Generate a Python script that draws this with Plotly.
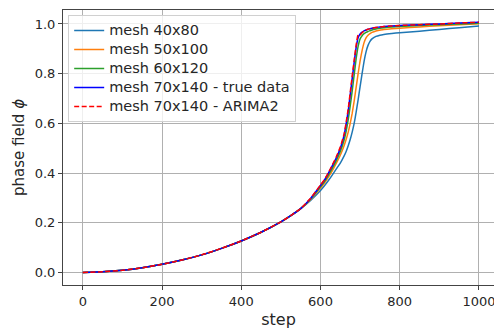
import plotly.graph_objects as go

steps = [0, 50, 100, 150, 200, 250, 300, 350, 400, 450, 500, 525, 550, 575, 600, 610, 620,
         630, 640, 650, 660, 665, 670, 675, 680, 685, 690, 695, 700, 705, 710, 715, 720,
         725, 730, 740, 750, 760, 780, 800, 850, 900, 950, 1000]

early = [0.0, 0.003, 0.009, 0.019, 0.033, 0.050, 0.071, 0.097, 0.127, 0.162, 0.204, 0.229, 0.257]

mesh_40x80 = early + [0.290, 0.330, 0.349, 0.370, 0.393, 0.417, 0.440, 0.470, 0.488, 0.510,
                      0.535, 0.565, 0.600, 0.645, 0.695, 0.748, 0.800, 0.850, 0.888, 0.914,
                      0.930, 0.940, 0.950, 0.955, 0.958, 0.962, 0.965, 0.971, 0.978, 0.985,
                      0.992]
mesh_50x100 = early + [0.294, 0.340, 0.360, 0.384, 0.410, 0.440, 0.472, 0.512, 0.537, 0.565,
                       0.600, 0.640, 0.690, 0.745, 0.800, 0.852, 0.893, 0.925, 0.944, 0.955,
                       0.961, 0.966, 0.972, 0.975, 0.978, 0.981, 0.983, 0.988, 0.993, 0.997,
                       1.001]
mesh_60x120 = early + [0.296, 0.345, 0.366, 0.392, 0.420, 0.451, 0.487, 0.535, 0.570, 0.615,
                       0.670, 0.730, 0.795, 0.860, 0.910, 0.940, 0.953, 0.961, 0.966, 0.970,
                       0.973, 0.976, 0.980, 0.983, 0.985, 0.988, 0.990, 0.994, 0.997, 1.000,
                       1.003]
mesh_70x140_true = early + [0.298, 0.350, 0.372, 0.400, 0.430, 0.462, 0.500, 0.555, 0.600, 0.650,
                            0.715, 0.780, 0.845, 0.905, 0.945, 0.960, 0.967, 0.972, 0.976, 0.979,
                            0.981, 0.983, 0.986, 0.988, 0.990, 0.992, 0.994, 0.997, 1.000, 1.004,
                            1.007]
mesh_70x140_arima = early + [0.299, 0.352, 0.374, 0.402, 0.433, 0.466, 0.505, 0.560, 0.607, 0.658,
                             0.724, 0.790, 0.853, 0.915, 0.957, 0.956, 0.965, 0.971, 0.976, 0.979,
                             0.981, 0.983, 0.986, 0.988, 0.990, 0.992, 0.994, 0.997, 1.000, 1.004,
                             1.007]

x_ticks = [0, 200, 400, 600, 800, 1000]
y_ticks = [0.0, 0.2, 0.4, 0.6, 0.8, 1.0]

series = [
    ("mesh 40x80", mesh_40x80, "#1f77b4", "solid"),
    ("mesh 50x100", mesh_50x100, "#ff7f0e", "solid"),
    ("mesh 60x120", mesh_60x120, "#2ca02c", "solid"),
    ("mesh 70x140 - true data", mesh_70x140_true, "#0000ff", "solid"),
    ("mesh 70x140 - ARIMA2", mesh_70x140_arima, "#ff0000", "5px,2.5px"),
]

fig = go.Figure()
for name, vals, color, dash in series:
    fig.add_trace(go.Scatter(x=steps, y=vals, mode="lines",
                             name=f'<span style="font-size:14.5px">{name}</span>',
                             line=dict(color=color, width=1.5, dash=dash,
                                       shape="spline", smoothing=0.4)))

font_family = "DejaVu Sans"
fig.update_layout(
    width=494, height=330,
    margin=dict(l=63, r=0, t=10, b=45),
    plot_bgcolor="white", paper_bgcolor="white",
    font=dict(family=font_family, color="#262626"),
    legend=dict(x=0.012, y=0.982, xanchor="left", yanchor="top",
                bgcolor="rgba(255,255,255,0.8)", bordercolor="#d0d0d0", borderwidth=1,
                font=dict(size=12, family=font_family, color="#262626"),
                tracegroupgap=0, itemwidth=30),
    showlegend=True,
)
fig.update_xaxes(
    range=[-50, 1038], tickvals=x_ticks, ticktext=[str(v) for v in x_ticks],
    showgrid=True, gridcolor="#b0b0b0", gridwidth=1,
    showline=True, linecolor="#444444", linewidth=1, mirror=True,
    ticks="outside", ticklen=4, tickcolor="#444444",
    tickfont=dict(size=13), zeroline=False, ticklabeloverflow="allow",
    title=dict(text="step", font=dict(size=16), standoff=6),
)
fig.update_yaxes(
    range=[-0.0503, 1.0563], tickvals=y_ticks, ticktext=[f"{v:.1f}" for v in y_ticks],
    showgrid=True, gridcolor="#b0b0b0", gridwidth=1,
    showline=True, linecolor="#444444", linewidth=1, mirror=False,
    ticks="outside", ticklen=4, tickcolor="#444444",
    tickfont=dict(size=13), zeroline=False,
    title=dict(text="phase field <i>ϕ</i>", font=dict(size=15), standoff=6),
)
fig.write_html("out.html")
